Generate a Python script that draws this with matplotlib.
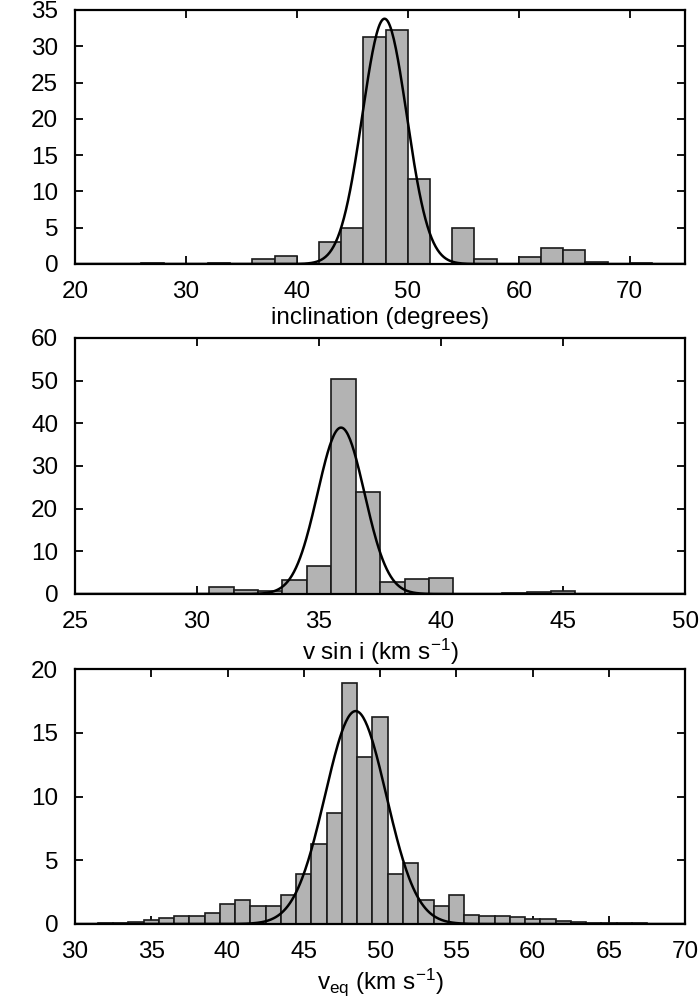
import matplotlib
matplotlib.use("Agg")
import matplotlib.pyplot as plt
import numpy as np

plt.rcParams['font.family'] = ['Liberation Sans', 'DejaVu Sans']
plt.rcParams['mathtext.fontset'] = 'custom'
plt.rcParams['mathtext.rm'] = 'Liberation Sans'
plt.rcParams['mathtext.it'] = 'Liberation Sans'

#------------------------------------------------------------------------------
# Data

# inclination, bins of 2 degrees (bin centres)
incl_centres = [27, 33, 37, 39, 43, 45, 47, 49, 51, 55, 57, 61, 63, 65, 67, 71]
incl_counts = [0.1, 0.1, 0.7, 1.1, 3.1, 4.9, 31.3, 32.2, 11.7, 5.0, 0.7, 0.9, 2.2, 1.9, 0.3, 0.2]
incl_fit = (33.8, 47.9, 2.0)       # amplitude, mean, sigma of Gaussian fit

# v sin i, bins of 1 km/s
vsini_centres = [31, 32, 33, 34, 35, 36, 37, 38, 39, 40, 42, 43, 44, 45, 46]
vsini_counts = [1.7, 0.9, 0.8, 3.2, 6.6, 50.3, 23.8, 2.7, 3.5, 3.8, 0.1, 0.15, 0.4, 0.7, 0.05]
vsini_fit = (39.0, 35.9, 0.96)

# v_eq, bins of 1 km/s
veq_centres = [31, 32, 33, 34, 35, 36, 37, 38, 39, 40, 41, 42, 43, 44, 45, 46, 47, 48, 49,
               50, 51, 52, 53, 54, 55, 56, 57, 58, 59, 60, 61, 62, 63, 64, 65, 66, 67, 68]
veq_counts = [0.03, 0.05, 0.08, 0.15, 0.3, 0.47, 0.6, 0.65, 0.86, 1.6, 1.9, 1.4, 1.4, 2.3,
              3.9, 6.3, 8.7, 18.9, 13.1, 16.2, 3.9, 4.8, 1.9, 1.4, 2.3, 0.73, 0.63, 0.63,
              0.53, 0.4, 0.38, 0.26, 0.13, 0.08, 0.05, 0.05, 0.04, 0.03]
veq_fit = (16.7, 48.4, 2.0)

panels = [
    (incl_centres, incl_counts, 2.0, incl_fit, (20, 75), np.arange(20, 71, 10),
     (0, 35), np.arange(0, 36, 5), "inclination (degrees)"),
    (vsini_centres, vsini_counts, 1.0, vsini_fit, (25, 50), np.arange(25, 51, 5),
     (0, 60), np.arange(0, 61, 10), r"v sin i (km s$^{-1}$)"),
    (veq_centres, veq_counts, 1.0, veq_fit, (30, 70), np.arange(30, 71, 5),
     (0, 20), np.arange(0, 21, 5), r"v$_{\rm eq}$ (km s$^{-1}$)"),
]

#------------------------------------------------------------------------------
# Plot

fig = plt.figure(figsize=(7, 10), dpi=100)
boxes = [[0.107, 0.736, 0.872, 0.254],
         [0.107, 0.406, 0.872, 0.256],
         [0.107, 0.076, 0.872, 0.255]]

for box, (centres, counts, width, fit, xlim, xticks, ylim, yticks, label) in zip(boxes, panels):
    ax = fig.add_axes(box)
    ax.bar(centres, counts, width=width, color='#b3b3b3', edgecolor='#1a1a1a',
           linewidth=1.2, zorder=2)
    amp, mu, sig = fit
    xs = np.linspace(xlim[0], xlim[1], 600)
    ax.plot(xs, amp * np.exp(-0.5 * ((xs - mu) / sig) ** 2), color='black', lw=1.8, zorder=3)
    ax.set_xlim(*xlim)
    ax.set_ylim(*ylim)
    ax.set_xticks(xticks)
    ax.set_yticks(yticks)
    ax.tick_params(direction='in', length=6, width=1.3, top=True, right=True,
                   labelsize=17.5, pad=12)
    for s in ax.spines.values():
        s.set_linewidth(1.6)
    ax.set_xlabel(label, fontsize=17.5, labelpad=3)

plt.savefig('out.png', dpi=100)
